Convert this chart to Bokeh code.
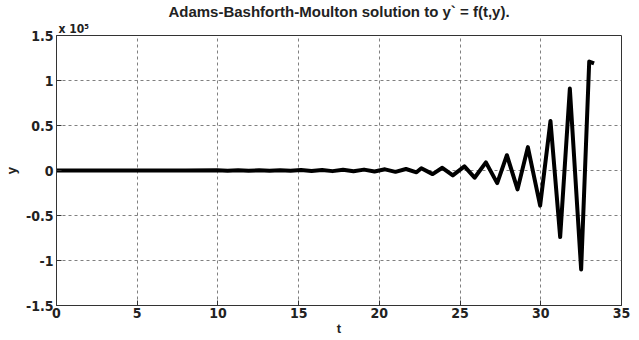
from bokeh.plotting import figure
from bokeh.models import FixedTicker, Range1d, Title
from bokeh.embed import file_html
from bokeh.resources import INLINE

# Extremes of the computed solution (t, y in units of 1e5)
t_vals = [0.0, 8.0, 9.95, 10.6, 11.25, 11.9, 12.55, 13.2, 13.85, 14.5, 15.15, 15.8,
          16.45, 17.1, 17.75, 18.4, 19.05, 19.7, 20.35, 21.0, 21.65, 22.3, 22.6,
          23.3, 23.9, 24.55, 25.27, 25.9, 26.6, 27.3, 27.9, 28.56, 29.2, 29.96,
          30.6, 31.2, 31.8, 32.5, 33.0, 33.3]
y_vals = [0.0, 0.0, 0.002, -0.002, 0.002, -0.003, 0.003, -0.003, 0.004, -0.004, 0.005, -0.005,
          0.006, -0.007, 0.008, -0.009, 0.010, -0.012, 0.013, -0.015, 0.017, -0.02, 0.025,
          -0.04, 0.03, -0.055, 0.045, -0.08, 0.09, -0.14, 0.17, -0.21, 0.26, -0.39,
          0.55, -0.74, 0.91, -1.10, 1.21, 1.19]

x_ticks = [0, 5, 10, 15, 20, 25, 30, 35]
y_ticks = [-1.5, -1, -0.5, 0, 0.5, 1, 1.5]
y_tick_labels = ["-1.5", "-1", "-0.5", "0", "0.5", "1", "1.5"]

title_text = "Adams-Bashforth-Moulton solution to y` = f(t,y)."
exponent_text = "x 10\u2075"

W, H = 639, 340
p = figure(width=W, height=H, output_backend="svg", toolbar_location=None,
           x_range=Range1d(0, 35), y_range=Range1d(-1.5, 1.5),
           min_border_left=54, min_border_right=18, min_border_top=35, min_border_bottom=35)
p.background_fill_color = "white"
p.border_fill_color = "white"
p.outline_line_color = "#333333"
p.outline_line_width = 1

tick_font = "'Liberation Sans Narrow', 'DejaVu Sans Condensed', 'Liberation Sans'"

p.xaxis.ticker = FixedTicker(ticks=x_ticks)
p.yaxis.ticker = FixedTicker(ticks=y_ticks)
p.yaxis.major_label_overrides = {v: s for v, s in zip(y_ticks, y_tick_labels)}
for ax in (p.xaxis, p.yaxis):
    ax.major_tick_in = 5
    ax.major_tick_out = 0
    ax.minor_tick_in = 0
    ax.minor_tick_out = 0
    ax.axis_line_color = "#333333"
    ax.major_tick_line_color = "#333333"
    ax.major_label_text_font = tick_font
    ax.major_label_text_font_style = "bold"
    ax.major_label_text_font_size = "14px"
    ax.major_label_text_color = "#222222"
    ax.axis_label_text_font = "Liberation Sans"
    ax.axis_label_text_font_style = "bold"
    ax.axis_label_text_font_size = "13px"
    ax.axis_label_text_color = "#222222"
p.xaxis.major_label_standoff = 2
p.yaxis.major_label_standoff = 3
p.xaxis.axis_label = "t"
p.yaxis.axis_label = "y"
p.xaxis.axis_label_standoff = 0
p.yaxis.axis_label_standoff = 4

p.xgrid.ticker = FixedTicker(ticks=x_ticks)
p.ygrid.ticker = FixedTicker(ticks=y_ticks)
for g in (p.xgrid, p.ygrid):
    g.grid_line_color = "#555555"
    g.grid_line_alpha = 0.75
    g.grid_line_dash = "3 3"
    g.grid_line_width = 1

p.line(t_vals, y_vals, line_color="black", line_width=4, line_join="round")

p.add_layout(Title(text=exponent_text, align="left", offset=2,
                   text_font=tick_font, text_font_style="bold",
                   text_font_size="12px", text_color="#222222",
                   standoff=0), "above")
p.add_layout(Title(text=title_text, align="center",
                   text_font="Liberation Sans", text_font_style="bold",
                   text_font_size="15px", text_color="#222222",
                   standoff=0), "above")

open("out.html", "w").write(file_html(p, INLINE))
